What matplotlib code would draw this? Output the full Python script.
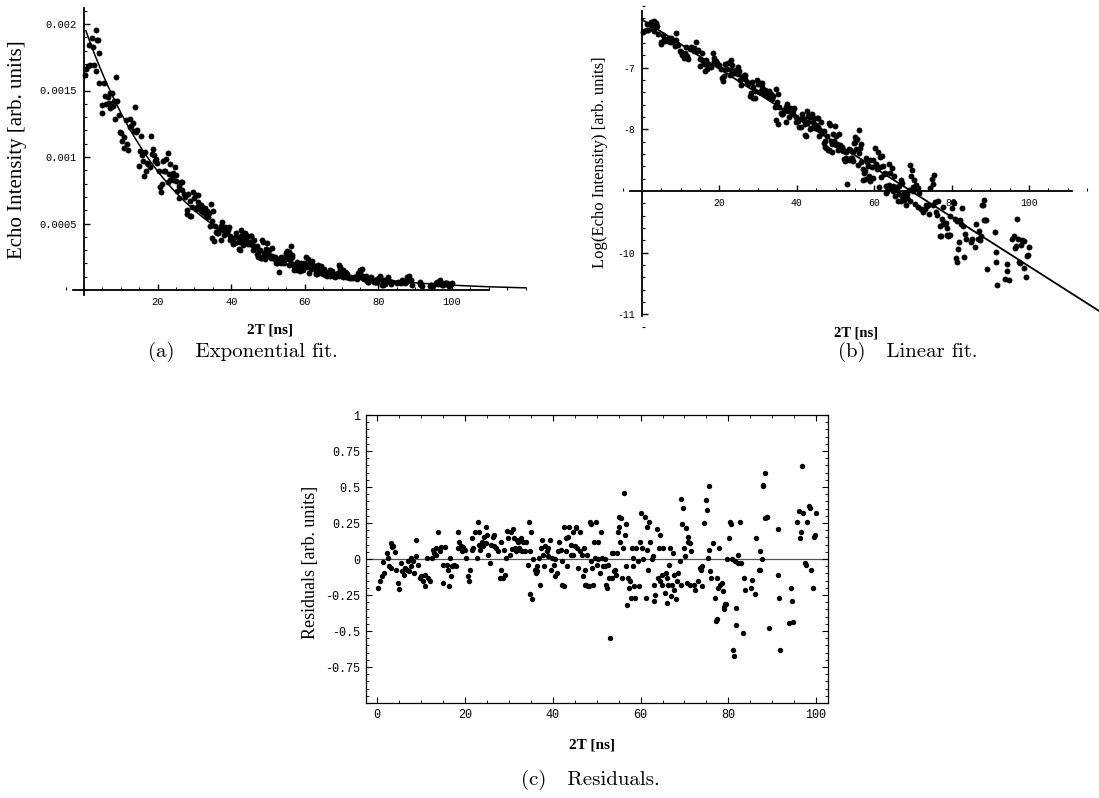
import numpy as np
import matplotlib
matplotlib.use("Agg")
import matplotlib.pyplot as plt
from matplotlib.ticker import MultipleLocator, FixedLocator

W, H = 1099, 798

# fit parameters: Log(I) = a + b * 2T
fit_a = -6.22
fit_b = -0.040

# residuals, (2T [ns], residual) pairs by 20 ns block
res_00_20 = [(0.2, -0.20), (0.6, -0.155), (1.2, -0.12), (1.6, -0.10), (1.4, -0.02), (2.2, 0.04),
             (2.4, 0.01), (2.8, -0.05), (3.2, 0.11), (3.4, 0.08), (3.7, 0.09), (3.2, -0.06),
             (4.0, 0.05), (4.2, -0.075), (4.8, -0.165), (4.9, -0.205), (5.4, -0.03), (5.6, -0.085),
             (6.0, -0.11), (6.4, -0.06), (6.8, -0.075), (7.0, -0.015), (7.2, -0.085), (7.6, 0.01),
             (7.8, -0.05), (8.1, -0.015), (8.4, -0.10), (8.8, 0.135), (8.9, 0.02), (9.4, -0.04),
             (9.7, -0.13), (10.0, -0.12), (10.4, -0.155), (10.8, -0.19), (11.0, -0.11), (11.3, 0.01),
             (11.6, -0.13), (12.0, -0.155), (12.4, 0.01), (12.6, 0.065), (12.9, 0.04), (13.4, 0.075),
             (13.5, 0.03), (13.9, 0.19), (14.2, 0.055), (14.5, 0.08), (14.9, -0.165), (15.1, -0.04),
             (15.5, 0.08), (15.8, -0.04), (16.1, -0.075), (16.3, -0.19), (16.6, 0.01), (16.9, -0.12),
             (17.1, -0.05), (17.5, -0.04), (17.9, -0.05), (18.3, 0.19), (18.5, 0.075), (18.7, 0.12),
             (19.0, 0.09), (19.3, 0.055), (19.5, 0.08), (19.9, 0.065)]
res_20_40 = [(20.3, 0.01), (20.7, -0.12), (21.0, -0.155), (21.1, -0.075), (21.5, 0.145), (21.7, 0.065),
             (21.9, 0.075), (22.3, 0.19), (22.7, 0.01), (22.9, 0.26), (23.1, 0.10), (23.3, 0.19),
             (23.5, 0.065), (23.9, 0.12), (24.1, 0.09), (24.3, 0.155), (24.7, 0.225), (24.9, 0.11),
             (25.1, 0.17), (25.3, 0.03), (25.7, -0.03), (25.9, 0.10), (26.3, 0.155), (26.5, 0.09),
             (26.7, 0.17), (27.1, 0.075), (27.5, 0.055), (27.9, -0.13), (28.1, -0.075), (28.3, 0.12),
             (28.7, -0.13), (28.8, 0.065), (29.1, -0.11), (29.3, 0.01), (29.6, 0.195), (29.9, 0.145),
             (30.3, 0.03), (30.4, 0.19), (30.7, 0.07), (30.9, 0.21), (31.1, 0.145), (31.5, 0.075),
             (31.7, 0.055), (31.9, 0.135), (32.0, 0.12), (32.3, 0.075), (32.5, 0.065), (32.8, 0.145),
             (33.1, 0.055), (33.3, 0.12), (33.6, 0.055), (33.9, 0.12), (34.3, -0.04), (34.5, 0.26),
             (34.7, -0.245), (34.9, 0.055), (35.1, 0.19), (35.2, -0.28), (35.5, 0.0), (35.9, -0.075),
             (36.1, -0.095), (36.3, -0.085), (36.5, -0.05), (36.8, 0.01), (37.1, -0.18), (37.3, 0.075),
             (37.5, 0.135), (37.8, 0.03), (38.1, -0.05), (38.2, 0.09), (38.6, 0.055), (38.9, 0.02),
             (39.0, 0.075), (39.4, 0.135), (39.7, -0.075), (39.8, 0.01)]
res_40_60 = [(40.2, -0.04), (40.5, 0.0), (40.6, -0.12), (41.0, -0.095), (41.3, 0.055), (41.4, 0.12),
             (41.8, 0.065), (42.1, -0.015), (42.2, -0.18), (42.5, -0.19), (42.6, 0.225), (42.9, 0.145),
             (43.0, 0.055), (43.3, -0.05), (43.4, 0.155), (43.8, 0.225), (44.1, 0.10), (44.2, 0.03),
             (44.5, 0.19), (44.6, 0.03), (45.0, 0.09), (45.3, 0.215), (45.4, 0.225), (45.6, 0.075),
             (45.8, -0.06), (46.1, 0.055), (46.2, 0.19), (46.6, 0.03), (46.9, -0.12), (47.0, 0.075),
             (47.3, -0.18), (47.4, -0.075), (47.6, -0.18), (47.8, 0.03), (48.0, -0.19), (48.2, -0.19),
             (48.4, 0.26), (48.6, 0.24), (48.8, -0.015), (49.0, -0.06), (49.2, -0.18), (49.4, 0.12),
             (49.6, 0.01), (49.8, 0.26), (50.0, -0.04), (50.2, 0.12), (50.4, 0.0), (50.7, -0.095),
             (51.0, 0.19), (51.2, 0.01), (51.4, -0.05), (51.8, 0.0), (52.0, -0.05), (52.2, -0.18),
             (52.4, -0.20), (52.6, -0.04), (52.7, -0.13), (53.1, -0.55), (53.4, 0.04), (53.5, -0.13),
             (53.8, 0.04), (54.0, -0.085), (54.2, -0.075), (54.4, -0.11), (54.6, 0.04), (54.8, 0.19),
             (55.0, 0.22), (55.1, 0.295), (55.4, 0.12), (55.6, 0.285), (55.8, -0.13), (56.0, 0.075),
             (56.2, 0.46), (56.4, 0.17), (56.6, 0.24), (56.7, -0.05), (57.0, -0.32), (57.2, -0.13),
             (57.4, -0.20), (57.6, -0.155), (57.8, -0.27), (58.0, 0.075), (58.2, 0.01), (58.3, -0.05),
             (58.6, -0.19), (58.8, -0.27), (59.0, 0.075), (59.4, -0.015), (59.6, -0.19), (59.8, 0.12)]
res_60_80 = [(60.2, 0.32), (60.4, 0.075), (60.6, 0.0), (61.0, 0.295), (61.2, -0.27), (61.4, 0.225),
             (61.5, 0.065), (61.8, -0.075), (62.0, 0.26), (62.2, 0.12), (62.5, 0.0), (62.8, 0.02),
             (63.0, -0.18), (63.1, -0.295), (63.3, -0.25), (63.7, 0.205), (63.9, -0.13), (64.1, 0.075),
             (64.4, -0.155), (64.5, 0.17), (64.8, -0.11), (64.9, -0.18), (65.2, 0.075), (65.5, -0.235),
             (65.7, -0.095), (66.0, -0.13), (66.1, -0.305), (66.3, -0.18), (66.5, -0.04), (66.8, 0.075),
             (66.9, -0.26), (67.2, -0.18), (67.3, 0.04), (67.6, -0.215), (67.7, -0.11), (68.1, -0.28),
             (68.4, -0.155), (68.5, -0.095), (68.9, -0.015), (69.2, -0.18), (69.3, 0.42), (69.5, 0.24),
             (69.7, 0.355), (69.9, 0.075), (70.1, 0.02), (70.3, 0.215), (70.5, -0.165), (70.8, 0.155),
             (70.9, 0.12), (71.2, 0.11), (71.3, -0.18), (71.6, 0.055), (72.1, -0.18), (72.5, -0.215),
             (73.1, -0.155), (73.5, -0.06), (73.7, -0.075), (73.9, -0.05), (74.1, -0.19), (74.5, 0.25),
             (74.9, 0.41), (75.1, 0.34), (75.3, 0.01), (75.5, 0.505), (75.7, 0.065), (75.9, -0.085),
             (76.1, -0.13), (76.5, 0.11), (76.9, -0.27), (77.1, -0.43), (77.3, -0.42), (77.5, -0.13),
             (77.7, -0.20), (77.9, 0.075), (78.1, -0.18), (78.5, -0.165), (78.7, -0.225), (78.9, -0.33),
             (79.1, -0.35), (79.3, -0.315), (79.5, -0.315), (79.7, 0.0)]
res_80_100 = [(80.1, 0.145), (80.3, 0.26), (80.5, 0.24), (80.9, 0.0), (81.1, -0.63), (81.3, -0.675),
              (81.4, -0.015), (81.7, -0.455), (81.8, -0.34), (82.1, 0.03), (82.3, -0.03), (82.7, 0.26),
              (82.9, -0.03), (83.3, -0.515), (83.5, -0.13), (83.7, -0.215), (85.1, -0.20), (85.3, -0.145),
              (86.1, -0.245), (86.3, 0.145), (86.9, -0.075), (87.1, 0.055), (87.3, -0.075), (87.6, 0.0),
              (87.9, 0.515), (88.0, 0.505), (88.3, 0.60), (88.4, 0.285), (88.7, 0.295), (88.8, 0.295),
              (89.2, -0.48), (91.2, 0.205), (91.4, -0.11), (91.6, -0.27), (91.8, -0.63), (93.9, -0.445),
              (94.2, -0.20), (94.4, -0.295), (94.8, -0.435), (95.6, 0.26), (96.0, 0.33), (96.3, 0.145),
              (96.6, 0.19), (96.8, 0.645), (97.1, 0.32), (97.4, -0.03), (97.6, -0.04), (98.0, 0.26),
              (98.3, 0.365), (98.6, 0.355), (98.8, -0.075), (99.2, -0.20), (99.6, 0.155), (99.8, 0.17),
              (100.0, 0.32)]

pts = np.array(res_00_20 + res_20_40 + res_40_60 + res_60_80 + res_80_100)
t = pts[:, 0]
resid = pts[:, 1]
log_I = fit_a + fit_b * t + resid
echo_I = np.exp(log_I)

TICK_FONT = ["Liberation Mono", "DejaVu Sans Mono"]
SERIF = ["Liberation Serif", "DejaVu Serif"]
CAPTION = ["cmr10", "DejaVu Serif"]

fig = plt.figure(figsize=(W / 100, H / 100), dpi=100)


def px_axes(x0, y0, x1, y1):
    return fig.add_axes([x0 / W, 1 - y1 / H, (x1 - x0) / W, (y1 - y0) / H])


def axis_style(ax, fs):
    ax.patch.set_visible(False)
    ax.spines["top"].set_visible(False)
    ax.spines["right"].set_visible(False)
    for s in ("left", "bottom"):
        ax.spines[s].set_linewidth(1.3)
    ax.tick_params(which="major", direction="in", length=4, width=1.0, labelsize=fs, pad=5)
    ax.tick_params(which="minor", direction="in", length=2, width=0.8)
    for lab in ax.get_xticklabels() + ax.get_yticklabels():
        lab.set_family(TICK_FONT)


# ---------- (a) exponential fit ----------
ax = px_axes(60, 5, 540, 300)
ax.set_xlim((60 - 84) / 3.68, (540 - 84) / 3.68)
ax.set_ylim((290 - 300) / 133000, (290 - 5) / 133000)
ax.spines["left"].set_position(("data", 0))
ax.spines["bottom"].set_position(("data", 0))
ax.spines["left"].set_bounds(-0.00004, 0.00212)
ax.spines["bottom"].set_bounds(-3, 110)
ax.xaxis.set_major_locator(FixedLocator([20, 40, 60, 80, 100]))
ax.xaxis.set_minor_locator(MultipleLocator(5))
ax.yaxis.set_major_locator(FixedLocator([0.0005, 0.001, 0.0015, 0.002]))
ax.yaxis.set_minor_locator(MultipleLocator(0.0001))
ax.set_xticklabels(["20", "40", "60", "80", "100"])
ax.set_yticklabels(["0.0005", "0.001", "0.0015", "0.002"])
axis_style(ax, 7.5)
tf = np.linspace(0.5, 120, 300)
ax.plot(tf, np.exp(fit_a + fit_b * tf), color="black", lw=1.1, clip_on=False)
ax.scatter(t, echo_I, s=18, color="black", linewidths=0, zorder=3, clip_on=False)
fig.text(18 / W, 1 - 150 / H, "Echo Intensity [arb. units]", rotation=90, ha="center", va="center",
         fontsize=15, family=SERIF)
fig.text(270 / W, 1 - 330 / H, "2T [ns]", ha="center", va="center", fontsize=11, family=SERIF,
         weight="bold")
fig.text(243 / W, 1 - 352 / H, "(a)   Exponential fit.", ha="center", va="center", fontsize=15,
         family=CAPTION)

# ---------- (b) linear fit ----------
ax = px_axes(620, 5, 1099, 330)
ax.set_xlim((620 - 642) / 3.87, (1099 - 642) / 3.87)
ax.set_ylim(-9 - (330 - 191) / 61.7, -9 + (191 - 5) / 61.7)
ax.spines["left"].set_position(("data", 0))
ax.spines["bottom"].set_position(("data", -9))
ax.spines["left"].set_bounds(-11.03, -6.08)
ax.spines["bottom"].set_bounds(-3, 111)
ax.xaxis.set_major_locator(FixedLocator([20, 40, 60, 80, 100]))
ax.xaxis.set_minor_locator(MultipleLocator(5))
ax.yaxis.set_major_locator(FixedLocator([-11, -10, -8, -7]))
ax.yaxis.set_minor_locator(MultipleLocator(0.2))
ax.set_xticklabels(["20", "40", "60", "80", "100"])
ax.set_yticklabels(["-11", "-10", "-8", "-7"])
axis_style(ax, 7)
tl = np.array([0, 125])
ax.plot(tl, fit_a + fit_b * tl, color="black", lw=1.3)
ax.scatter(t, log_I, s=18, color="black", linewidths=0, zorder=3, clip_on=False)
fig.text(600 / W, 1 - 162 / H, "Log(Echo Intensity) [arb. units]", rotation=90, ha="center",
         va="center", fontsize=12, family=SERIF)
fig.text(856 / W, 1 - 333 / H, "2T [ns]", ha="center", va="center", fontsize=10.5, family=SERIF,
         weight="bold")
fig.text(908 / W, 1 - 352 / H, "(b)   Linear fit.", ha="center", va="center", fontsize=15,
         family=CAPTION)

# ---------- (c) residuals ----------
ax = px_axes(366, 415, 828, 703)
ax.set_xlim(-2.55, 102.7)
ax.set_ylim(-1, 1)
ax.axhline(0, color="#555555", lw=0.9, zorder=1)
ax.scatter(t, resid, s=15, color="black", linewidths=0, zorder=3)
ax.xaxis.set_major_locator(MultipleLocator(20))
ax.xaxis.set_minor_locator(MultipleLocator(5))
ax.yaxis.set_major_locator(FixedLocator([-1, -0.75, -0.5, -0.25, 0, 0.25, 0.5, 0.75, 1]))
ax.yaxis.set_minor_locator(MultipleLocator(0.05))
ax.set_xticks([0, 20, 40, 60, 80, 100])
ax.set_xticklabels(["0", "20", "40", "60", "80", "100"])
ax.set_yticklabels(["", "-0.75", "-0.5", "-0.25", "0", "0.25", "0.5", "0.75", "1"])
for s in ax.spines.values():
    s.set_linewidth(0.9)
ax.tick_params(which="both", direction="in", top=True, right=True, labelsize=8.5, pad=4)
ax.tick_params(which="major", length=4, width=0.8)
ax.tick_params(which="minor", length=2, width=0.6)
for lab in ax.get_xticklabels() + ax.get_yticklabels():
    lab.set_family(TICK_FONT)
fig.text(310 / W, 1 - 562 / H, "Residuals [arb. units]", rotation=90, ha="center", va="center",
         fontsize=13, family=SERIF)
fig.text(592 / W, 1 - 745 / H, "2T [ns]", ha="center", va="center", fontsize=11, family=SERIF,
         weight="bold")
fig.text(590 / W, 1 - 780 / H, "(c)   Residuals.", ha="center", va="center", fontsize=15,
         family=CAPTION)

fig.savefig("out.png", dpi=100)
